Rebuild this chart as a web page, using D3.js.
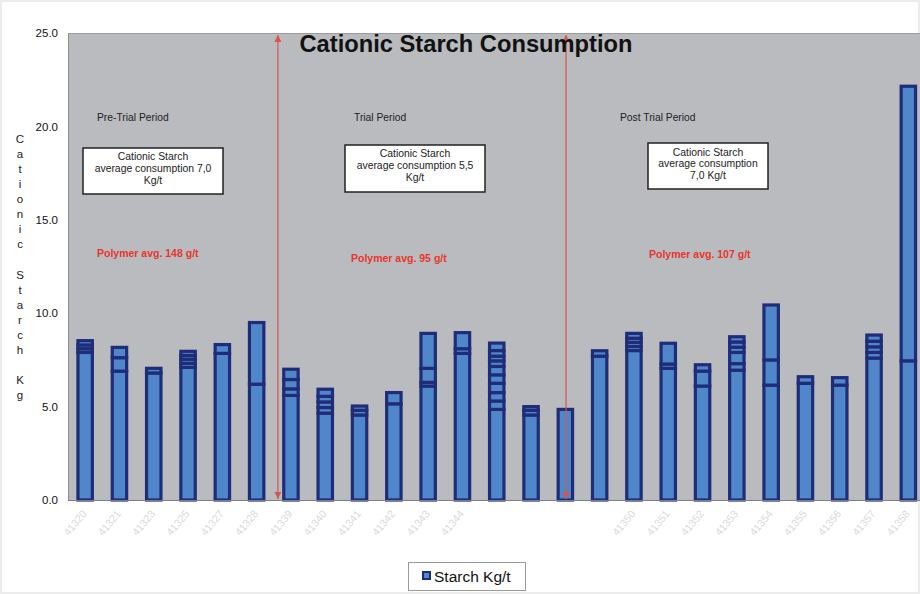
<!DOCTYPE html>
<html>
<head>
<meta charset="utf-8">
<script src="https://cdn.jsdelivr.net/npm/d3@7/dist/d3.min.js"></script>
<style>
  html, body { margin: 0; padding: 0; background: #fff; }
  svg { display: block; font-family: "Liberation Sans", Arial, sans-serif; }
</style>
</head>
<body>
<svg id="chart" width="920" height="594"></svg>
<script>
// Daily cationic starch dosage (kg/t); each day is stacked from its individual readings.
const categories = [
  "41320", "41321", "41323", "41325", "41327", "41328",
  "41339", "41340", "41341", "41342", "41343", "41344", "41345", "41346", "41347",
  "41349", "41350", "41351", "41352", "41353", "41354", "41355", "41356", "41357", "41358"
];

const starchSegments = [
  [7.9, 0.2, 0.2, 0.23],
  [6.9, 0.72, 0.55],
  [6.8, 0.25],
  [7.1, 0.22, 0.22, 0.2, 0.22],
  [7.85, 0.47],
  [6.2, 3.3],
  [5.6, 0.35, 0.5, 0.55],
  [4.65, 0.3, 0.3, 0.3, 0.38],
  [4.55, 0.25, 0.23],
  [5.15, 0.6],
  [6.1, 0.2, 0.75, 1.87],
  [7.85, 0.25, 0.86],
  [4.85, 0.45, 0.45, 0.5, 0.45, 0.45, 0.3, 0.25, 0.3, 0.4],
  [4.55, 0.25, 0.2],
  [4.85],
  [7.7, 0.29],
  [8.0, 0.22, 0.22, 0.22, 0.26],
  [7.05, 0.23, 1.11],
  [6.1, 0.8, 0.34],
  [6.95, 0.35, 0.6, 0.28, 0.28, 0.28],
  [6.15, 1.35, 2.94],
  [6.25, 0.35],
  [6.15, 0.4],
  [7.6, 0.3, 0.3, 0.3, 0.33],
  [7.45, 14.7]
];

// Date labels under the axis (a few are not printed)
const xTickLabels = [
  "41320", "41321", "41323", "41325", "41327", "41328",
  "41339", "41340", "41341", "41342", "41343", "41344", "", "", "",
  "", "41350", "41351", "41352", "41353", "41354", "41355", "41356", "41357", "41358"
];

const yTicks = [0, 5, 10, 15, 20, 25];

// Period boundaries, in units of category slots from the left edge
const periodBoundaries = [6.12, 14.52];

const periods = [
  { name: "Pre-Trial Period", box: ["Cationic Starch", "average consumption 7,0", "Kg/t"], polymer: "Polymer avg. 148 g/t" },
  { name: "Trial Period", box: ["Cationic Starch", "average consumption 5,5", "Kg/t"], polymer: "Polymer avg. 95 g/t" },
  { name: "Post Trial Period", box: ["Cationic Starch", "average consumption", "7,0 Kg/t"], polymer: "Polymer avg. 107 g/t" }
];

const svg = d3.select("#chart");
const W = 920, H = 594;
const plot = { left: 68, top: 33, bottom: 500 };
const step = 34.3;
const plotRight = plot.left + step * categories.length;

const x = d3.scaleBand()
  .domain(categories)
  .range([plot.left, plotRight])
  .paddingInner(0.58)
  .paddingOuter(0.29);

const xSlot = d3.scaleLinear().domain([0, categories.length]).range([plot.left, plotRight]);

const y = d3.scaleLinear().domain([0, 25]).range([plot.bottom, plot.top]);

// faint outer frame
svg.append("rect").attr("x", 1).attr("y", 1).attr("width", W - 2).attr("height", H - 2)
  .attr("fill", "#fff").attr("stroke", "#ececec").attr("stroke-width", 2);

// plot background
svg.append("rect")
  .attr("x", plot.left).attr("y", plot.top)
  .attr("width", plotRight - plot.left).attr("height", plot.bottom - plot.top)
  .attr("fill", "#b9bbbe");

svg.append("line").attr("x1", plot.left).attr("x2", plotRight)
  .attr("y1", plot.top + 0.5).attr("y2", plot.top + 0.5).attr("stroke", "#9a9c9f");
svg.append("line").attr("x1", plot.left + 0.5).attr("x2", plot.left + 0.5)
  .attr("y1", plot.top).attr("y2", plot.bottom).attr("stroke", "#8a8c8f");

// y axis
const yAxis = d3.axisLeft(y).tickValues(yTicks).tickSize(0).tickPadding(10).tickFormat(d3.format(".1f"));
const gy = svg.append("g").attr("transform", `translate(${plot.left},0)`).call(yAxis);
gy.select(".domain").remove();
gy.selectAll("text").attr("font-size", 11.5).attr("fill", "#111")
  .attr("font-family", "Liberation Sans, Arial, sans-serif");

// stacked bars
const barGroups = svg.append("g").selectAll("g")
  .data(categories.map((c, i) => {
    const tops = d3.cumsum(starchSegments[i]);
    return { cat: c, segs: starchSegments[i].map((v, j) => ({ y0: tops[j] - v, y1: tops[j] })) };
  }))
  .join("g");

barGroups.selectAll("rect")
  .data(d => d.segs.map(s => ({ ...s, cat: d.cat })))
  .join("rect")
  .attr("x", d => x(d.cat))
  .attr("width", x.bandwidth())
  .attr("y", d => y(d.y1))
  .attr("height", d => y(d.y0) - y(d.y1))
  .attr("fill", "#5087cb")
  .attr("stroke", "#1f2d78")
  .attr("stroke-width", 3.2);

// x axis line
svg.append("line").attr("x1", plot.left).attr("x2", plotRight)
  .attr("y1", plot.bottom + 0.5).attr("y2", plot.bottom + 0.5).attr("stroke", "#7d7f82");

// x tick labels, rotated and faint
const xAxis = d3.axisBottom(x).tickSize(0).tickPadding(0)
  .tickFormat((d, i) => xTickLabels[i]);
const gx = svg.append("g").attr("transform", `translate(0,${plot.bottom})`).call(xAxis);
gx.select(".domain").remove();
gx.selectAll("text")
  .attr("font-size", 10.5)
  .attr("fill", "#dadada")
  .attr("font-family", "Liberation Sans, Arial, sans-serif")
  .attr("text-anchor", "end")
  .attr("dy", 0)
  .attr("transform", "translate(2,14) rotate(-50)");

// period boundary arrows
const defs = svg.append("defs");
defs.append("marker").attr("id", "arrowHead")
  .attr("viewBox", "0 0 10 10").attr("refX", 10).attr("refY", 5)
  .attr("markerWidth", 7).attr("markerHeight", 7).attr("orient", "auto-start-reverse")
  .attr("markerUnits", "userSpaceOnUse")
  .append("path").attr("d", "M0,0 L10,5 L0,10 Z").attr("fill", "#d9544c");

svg.append("g").selectAll("line")
  .data(periodBoundaries)
  .join("line")
  .attr("x1", d => xSlot(d)).attr("x2", d => xSlot(d))
  .attr("y1", y(25) + 2).attr("y2", y(0) - 1)
  .attr("stroke", "#d9544c").attr("stroke-width", 1.2)
  .attr("marker-start", "url(#arrowHead)")
  .attr("marker-end", "url(#arrowHead)");

// title
svg.append("text")
  .attr("x", 466).attr("y", 52)
  .attr("text-anchor", "middle")
  .attr("font-size", 23.7).attr("font-weight", "bold").attr("fill", "#111")
  .text("Cationic Starch Consumption");

// period annotations
const periodLayout = [
  { nameX: 97, nameY: 121, box: [83, 148, 140, 46], lineY: [160, 172, 184], polyX: 97, polyY: 257 },
  { nameX: 354, nameY: 121, box: [345, 145, 140, 47], lineY: [157, 169, 181], polyX: 351, polyY: 262 },
  { nameX: 620, nameY: 121, box: [648, 143, 120, 46], lineY: [156, 167, 179], polyX: 649, polyY: 258 }
];

periods.forEach((p, i) => {
  const L = periodLayout[i];
  const g = svg.append("g");
  g.append("text").attr("x", L.nameX).attr("y", L.nameY)
    .attr("font-size", 10.3).attr("fill", "#222").text(p.name);
  g.append("rect").attr("x", L.box[0]).attr("y", L.box[1])
    .attr("width", L.box[2]).attr("height", L.box[3])
    .attr("fill", "#fff").attr("stroke", "#222").attr("stroke-width", 1.5);
  p.box.forEach((line, k) => {
    g.append("text").attr("x", L.box[0] + L.box[2] / 2).attr("y", L.lineY[k])
      .attr("text-anchor", "middle").attr("font-size", 10.4).attr("fill", "#222").text(line);
  });
  g.append("text").attr("x", L.polyX).attr("y", L.polyY)
    .attr("font-size", 10.5).attr("font-weight", "bold").attr("fill", "#e8352d").text(p.polymer);
});

// vertical y-axis title, one letter per line
const yTitle = "Cationic Starch Kg";
svg.append("text")
  .attr("x", 20).attr("y", 143)
  .attr("font-size", 11.5).attr("fill", "#222").attr("text-anchor", "middle")
  .selectAll("tspan")
  .data(yTitle.split(""))
  .join("tspan")
  .attr("x", 20)
  .attr("dy", (d, i) => i === 0 ? 0 : 15.06)
  .text(d => d === " " ? "\u00a0" : d);

// legend
const legend = svg.append("g");
legend.append("rect").attr("x", 408.5).attr("y", 562.5).attr("width", 117).attr("height", 28)
  .attr("fill", "#fff").attr("stroke", "#9a9a9a").attr("stroke-width", 1);
legend.append("rect").attr("x", 423).attr("y", 572).attr("width", 7).attr("height", 7)
  .attr("fill", "#5087cb").attr("stroke", "#1f2d78").attr("stroke-width", 2);
legend.append("text").attr("x", 434).attr("y", 582)
  .attr("font-size", 15.5).attr("fill", "#111").text("Starch Kg/t");
</script>
</body>
</html>
